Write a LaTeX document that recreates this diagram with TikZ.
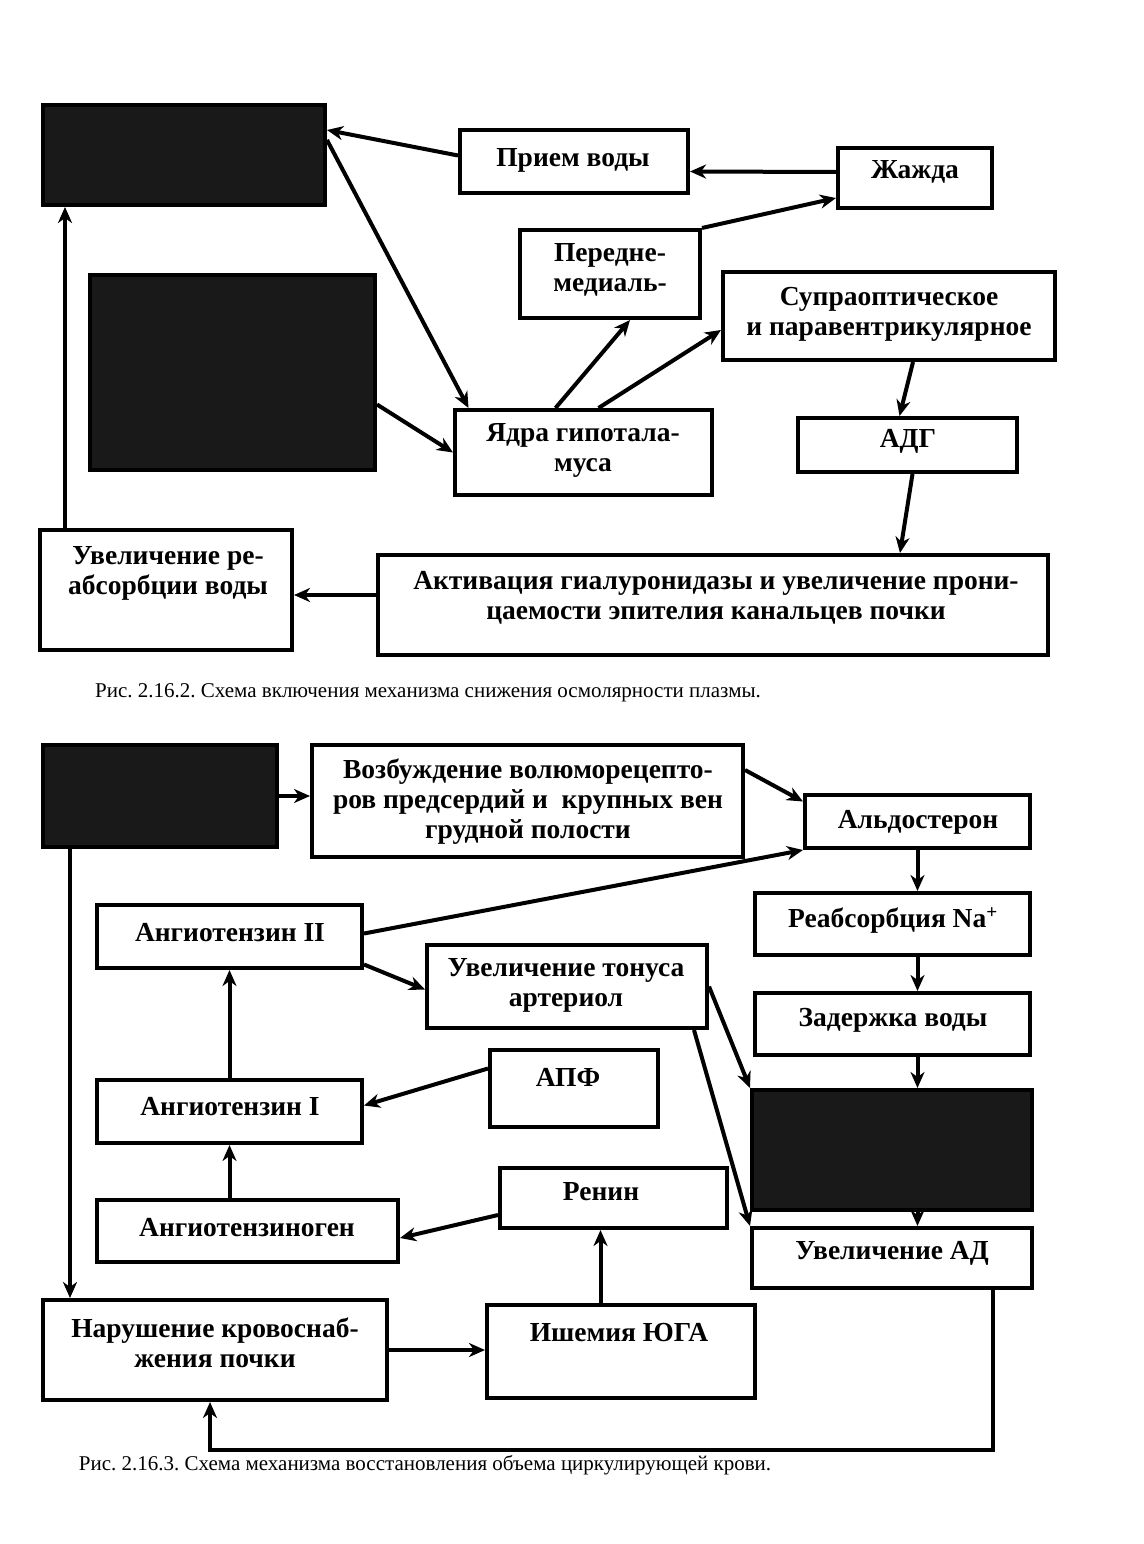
\documentclass[tikz,border=0pt]{standalone}
\usepackage{fontspec}
\setmainfont{Liberation Serif}
\frenchspacing
\usetikzlibrary{arrows.meta,fit}
\tikzset{
  box/.style={draw, line width=4pt, inner sep=0pt},
  darkbox/.style={box, fill=black!90},
  txt/.style={font=\bfseries\fontsize{27.5}{30}\selectfont, align=center, inner sep=0pt},
  captxt/.style={font=\fontsize{21}{24}\selectfont, inner sep=0pt},
  arr/.style={line width=4pt, -{Stealth[length=16pt,width=14pt,inset=5pt]}},
}
\newcommand\mkbox[6][box]{\node[#1, fit={(#3,#4) (#5,#6)}] (#2) {};}
\begin{document}
\begin{tikzpicture}[x=1pt,y=-1pt]
\useasboundingbox (0,0) rectangle (1143,1544);
% ---------- top diagram ----------
\mkbox[darkbox]{A}{43}{105}{325}{205}
\mkbox[darkbox]{B}{90}{275}{375}{470}
\mkbox{pv}{460}{130}{688}{193}
\mkbox{zh}{838}{148}{992}{208}
\mkbox{pm}{520}{230}{700}{318}
\mkbox{sp}{723}{272}{1055}{360}
\mkbox{ya}{455}{410}{712}{495}
\mkbox{adg}{798}{418}{1017}{472}
\mkbox{ur}{40}{530}{292}{650}
\mkbox{ak}{378}{555}{1048}{655}
\node[txt] (tpv) at (573,160) {Прием воды};
\node[txt] (tzh) at (915,172) {Жажда};
\node[txt] (tpm) at (610,270) {Передне-\\медиаль-};
\node[txt] (tsp) at (889,314) {Супраоптическое\\и паравентрикулярное};
\node[txt] (tya) at (583,450) {Ядра гипотала-\\муса};
\node[txt] (tadg) at (908,441) {АДГ};
\node[txt] (tur) at (168,573) {Увеличение ре-\\абсорбции воды};
\node[txt] (tak) at (716,598) {Активация гиалуронидазы и увеличение прони-\\цаемости эпителия канальцев почки};
\draw[arr] ([yshift=6pt]pv.west) -- ([yshift=25pt]A.east);
\draw[arr] ([yshift=6pt]zh.west) -- ([yshift=-10pt]pv.east);
\draw[arr] (pm.north east) -- ([yshift=12pt]zh.south west);
\draw[arr] ([yshift=15pt]A.east) -- ([xshift=-115pt]ya.north);
\draw[arr] ([yshift=-32pt]B.east) -- (ya.west);
\draw[arr] ([xshift=-28pt]ya.north) -- ([xshift=20pt]pm.south);
\draw[arr] ([xshift=15pt]ya.north) -- ([yshift=-14pt]sp.west);
\draw[arr] ([xshift=24pt]sp.south) -- ([xshift=-8pt]adg.north);
\draw[arr] ([xshift=5pt]adg.south) -- ([xshift=187pt]ak.north);
\draw[arr] ([yshift=10pt]ak.west) -- ([yshift=-5pt]ur.east);
\draw[arr] ([xshift=-101pt]ur.north) -- ([xshift=-119pt]A.south);
\node[captxt] (c1) at (428,693) {Рис. 2.16.2. Схема включения механизма снижения осмолярности плазмы.};
% ---------- bottom diagram ----------
\mkbox[darkbox]{C}{43}{745}{277}{847}
\mkbox{vz}{312}{745}{743}{857}
\mkbox{al}{805}{795}{1030}{848}
\mkbox{a2}{97}{905}{362}{968}
\mkbox{rn}{755}{893}{1030}{955}
\mkbox{ut}{427}{945}{707}{1028}
\mkbox{zv}{755}{993}{1030}{1055}
\mkbox{apf}{490}{1050}{658}{1127}
\mkbox{a1}{97}{1080}{362}{1143}
\mkbox[darkbox]{D}{752}{1090}{1032}{1210}
\mkbox{ren}{500}{1168}{727}{1228}
\mkbox{ag}{97}{1200}{398}{1262}
\mkbox{ud}{752}{1228}{1032}{1288}
\mkbox{nk}{43}{1300}{387}{1400}
\mkbox{is}{487}{1305}{755}{1398}
\node[txt] (tvz) at (528,802) {Возбуждение волюморецепто-\\ров предсердий и\ \ крупных вен\\грудной полости};
\node[txt] (tal) at (918,822) {Альдостерон};
\node[txt] (ta2) at (230,933) {Ангиотензин II};
\node[txt] (trn) at (893,920) {Реабсорбция Na\textsuperscript{+}};
\node[txt] (tut) at (566,985) {Увеличение тонуса\\артериол};
\node[txt] (tzv) at (893,1020) {Задержка воды};
\node[txt] (tapf) at (568,1077) {АПФ};
\node[txt] (ta1) at (230,1107) {Ангиотензин I};
\node[txt] (tren) at (601,1192) {Ренин};
\node[txt] (tag) at (247,1228) {Ангиотензиноген};
\node[txt] (tud) at (892,1253) {Увеличение АД};
\node[txt] (tnk) at (215,1343) {Нарушение кровоснаб-\\жения почки};
\node[txt] (tis) at (619,1333) {Ишемия ЮГА};
\draw[arr] (C.east) -- (C.east -| vz.west);
\draw[arr] ([yshift=31pt]vz.east) -- ([yshift=20pt]al.west);
\draw[arr] ([yshift=3pt]a2.east) -- (al.south west);
\draw[arr] ([yshift=-28pt]a2.east) -- ([yshift=-3pt]ut.west);
\draw[arr] (al.south) -- (al.south |- rn.north);
\draw[arr] (al.south |- rn.south) -- (al.south |- zv.north);
\draw[arr] (al.south |- zv.south) -- (al.south |- D.north);
\draw[arr] (al.south |- D.south) -- (al.south |- ud.north);
\draw[arr] (ut.east) -- (D.north west);
\draw[arr] ([xshift=-15pt]ut.south east) -- (ud.north west);
\draw[arr] ([yshift=20pt]apf.west) -- ([yshift=6pt]a1.east);
\draw[arr] (a1.north) -- (a2.south);
\draw[arr] (a1.south |- ag.north) -- (a1.south);
\draw[arr] ([yshift=-17pt]ren.west) -- ([yshift=-7pt]ag.east);
\draw[arr] ([xshift=-13pt]ren.south |- is.north) -- ([xshift=-13pt]ren.south);
\draw[arr] (nk.east) -- (nk.east -| is.west);
\draw[arr] ([xshift=-90pt]C.south) -- ([xshift=-90pt]C.south |- nk.north);
\draw[arr] ([xshift=101pt]ud.south) -- ++(0,160) -| ([xshift=-5pt]nk.south);
\node[captxt] (c2) at (425,1465) {Рис. 2.16.3. Схема механизма восстановления объема циркулирующей крови.};
\end{tikzpicture}
\end{document}
